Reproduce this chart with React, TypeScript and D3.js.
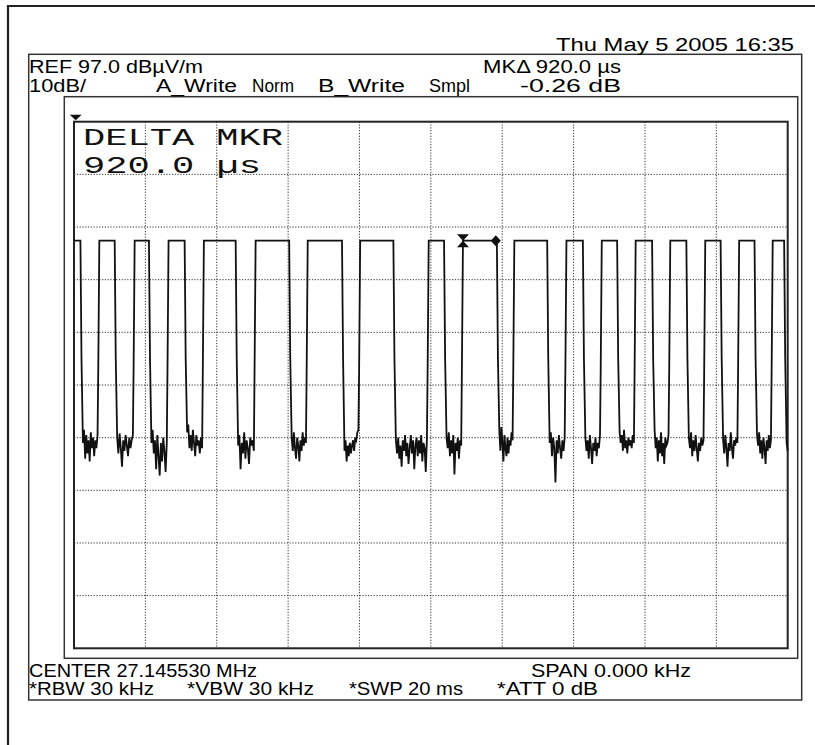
import * as d3 from "d3";

// analyzer settings shown on screen
const refLevelDb = 97;
const dbPerDiv = 10;
const sweepMs = 20;
const msPerDiv = 2;
const highLevelDb = 74.4;

// pulse edges (ms from sweep start)
const pulseStartMs = [0, 0.66, 1.65, 2.6, 3.59, 5.04, 6.5, 7.97, 9.89, 10.85, 12.29, 13.75, 14.74, 15.69, 16.66, 17.64, 18.59, 19.53];
const pulseEndMs = [0.18, 1.14, 2.1, 3.1, 4.53, 6.03, 7.51, 8.95, 10.37, 11.85, 13.26, 14.26, 15.22, 16.2, 17.16, 18.12, 19.07, 19.9];

// noise floor between pulses (dBuV/m), one list per gap
const noiseDb = [
  [36, 38.5, 33, 37.5, 34, 36.5, 32.5, 38, 35, 37, 33.5, 36.5, 35, 37.5],
  [37, 34, 37.8, 35, 31.5, 36.5, 34.5, 37.5, 35.5, 33.5, 37, 35, 36.5, 37.5],
  [36, 38.5, 34, 36.5, 31, 37.5, 33.5, 29.8, 36, 32.5, 37, 34.5, 30.5, 36],
  [38, 39.5, 35, 37.5, 34.5, 38.5, 36, 33.5, 37.5, 35.5, 36.5, 34, 37, 35],
  [35.5, 37.5, 31, 36, 34, 38, 33, 36.5, 35, 32, 37, 35.5, 36.5, 34.5],
  [37, 34.5, 38, 35, 33, 37, 35.5, 32.5, 36.5, 34.5, 38, 35.5, 37, 36],
  [34.5, 36.5, 32.5, 35.5, 33.5, 36, 34, 35.5, 36.5, 34.5, 37, 36.5, 38, 38.5],
  [36.5, 34, 37, 33, 35.5, 31.5, 36.5, 34.5, 37.5, 33.5, 36, 32, 35, 37.5, 34, 36.5, 31, 35.5, 37, 33.5, 36.5, 34, 37.5, 32.5, 36, 35, 30.5, 37],
  [37, 35, 38, 33.5, 36.5, 34, 37.5, 30, 36, 34.5, 37, 33, 36.5, 35.5],
  [38, 34.5, 39, 36, 32.5, 37.5, 35, 33.5, 37, 34, 36.5, 35.5, 38, 36.5],
  [36, 38, 33.5, 37, 35, 28.5, 36.5, 34, 37.5, 35, 33, 36.5, 34.5, 37],
  [37, 34.5, 36.5, 33, 37.5, 35, 32, 36, 34.5, 37, 33.5, 36, 35, 37.5],
  [38, 36, 37.5, 34.5, 38.5, 35, 36.5, 34, 37, 35.5, 36.5, 35, 37.5, 36],
  [38.5, 35, 37, 32.5, 36.5, 34, 38, 33.5, 36, 32, 37, 35.5, 36, 37.5],
  [37, 35, 38, 33.5, 36.5, 34.5, 37.5, 35, 32.5, 36, 34.5, 37, 35.5, 36.5],
  [36.5, 34, 37.5, 35, 31.5, 36, 34.5, 38, 35, 33, 36.5, 35.5, 37, 36],
  [37.5, 35.5, 38, 34, 36.5, 33, 37, 35, 32, 36.5, 34.5, 37.5, 35, 36.5],
  [36, 34.5],
];

const markerMs = [10.9, 11.82];

const topLabels = ["REF 97.0 dB\u00b5V/m", "MK\u0394 920.0 \u00b5s", "10dB/", "A_Write", "Norm", "B_Write", "Smpl", "-0.26 dB"];
const bottomLabels = ["CENTER 27.145530 MHz", "SPAN 0.000 kHz", "*RBW 30 kHz", "*VBW 30 kHz", "*SWP 20 ms", "*ATT 0 dB"];
const dateLabel = "Thu May  5 2005 16:35";
const deltaLabels = ["DELTA MKR", "920.0 \u00b5s"];

export default function App() {
  const left = 74;
  const right = 787.7;
  const top = 121.7;
  const bottom = 648.3;

  const x = d3.scaleLinear().domain([0, sweepMs]).range([left, right]);
  const y = d3
    .scaleLinear()
    .domain([refLevelDb - 10 * dbPerDiv, refLevelDb])
    .range([bottom, top]);

  const pts: [number, number][] = [];
  pulseStartMs.forEach((start, i) => {
    const end = pulseEndMs[i];
    if (i === 0) {
      pts.push([start, highLevelDb]);
    } else {
      pts.push([start + 0.02, 50]);
      pts.push([start + 0.05, highLevelDb]);
    }
    pts.push([end, highLevelDb]);
    pts.push([end + 0.03, 52]);
    const gap = noiseDb[i];
    const a = end + 0.07;
    const b = i + 1 < pulseStartMs.length ? pulseStartMs[i + 1] : sweepMs;
    gap.forEach((v, k) => pts.push([a + ((b - a) * k) / Math.max(gap.length - 1, 1), v]));
  });

  const line = d3
    .line<[number, number]>()
    .x((d) => x(d[0]))
    .y((d) => y(d[1]));

  const vTicks = d3.range(msPerDiv, sweepMs, msPerDiv);
  const hTicks = d3.range(refLevelDb - 9 * dbPerDiv, refLevelDb, dbPerDiv);

  const txt = {
    fontFamily: "'Liberation Sans Narrow', 'Liberation Sans', Arial, sans-serif",
    fontSize: 18,
    fill: "#000",
  } as const;
  const fit = (s: string, xx: number, yy: number, w: number) => (
    <text key={s} x={xx} y={yy} textLength={w} lengthAdjust="spacingAndGlyphs" {...txt}>
      {s}
    </text>
  );

  const hy = y(highLevelDb);

  return (
    <svg
      width={815}
      height={745}
      style={{ position: "absolute", left: 0, top: 0, background: "#fff" }}
    >
      <rect x={0} y={0} width={815} height={745} fill="#fff" />
      {/* outer frame */}
      <path d="M8,745 L8,6 L815,6" fill="none" stroke="#222" strokeWidth={2.2} />
      {/* screen boxes */}
      <rect x={28.7} y={54.3} width={773} height={645.7} fill="none" stroke="#333" strokeWidth={1.5} />
      <rect x={64.3} y={96.7} width={733.4} height={561.6} fill="none" stroke="#333" strokeWidth={1.5} />

      {fit(dateLabel, 556, 51, 238)}
      {fit(topLabels[0], 29, 72.7, 174)}
      {fit(topLabels[1], 483, 72.7, 138)}
      {fit(topLabels[2], 29, 91.7, 57)}
      {fit(topLabels[3], 156, 91.7, 81)}
      {fit(topLabels[4], 252, 91.7, 42)}
      {fit(topLabels[5], 318, 91.7, 87)}
      {fit(topLabels[6], 429, 91.7, 41)}
      {fit(topLabels[7], 520, 91.7, 101)}

      {fit(bottomLabels[0], 29, 676.7, 228)}
      {fit(bottomLabels[1], 531, 676.7, 160)}
      {fit(bottomLabels[2], 29, 695, 125)}
      {fit(bottomLabels[3], 187, 695, 127)}
      {fit(bottomLabels[4], 349, 695, 114)}
      {fit(bottomLabels[5], 497, 695, 101)}

      {/* graticule */}
      <g stroke="#333" strokeWidth={1} strokeDasharray="1.2 1.6" fill="none">
        {vTicks.map((t) => (
          <line key={"v" + t} x1={x(t)} x2={x(t)} y1={top} y2={bottom} />
        ))}
        {hTicks.map((d) => (
          <line key={"h" + d} x1={left} x2={right} y1={y(d)} y2={y(d)} />
        ))}
      </g>
      <rect x={left} y={top} width={right - left} height={bottom - top} fill="none" stroke="#222" strokeWidth={2} />

      {/* reference level marker */}
      <path d={`M${left + 1.7 - 6},${top - 7} L${left + 1.7 + 6},${top - 7} L${left + 1.7},${top - 1.5} Z`} fill="#111" />

      {/* delta marker readout */}
      <g fontFamily="'Liberation Mono', 'DejaVu Sans Mono', monospace" fontSize={24} fill="#111">
        <text x={83} y={145} textLength={200} lengthAdjust="spacingAndGlyphs">
          {deltaLabels[0]}
        </text>
        <text x={83} y={172.5} textLength={178} lengthAdjust="spacingAndGlyphs">
          {deltaLabels[1]}
        </text>
      </g>

      {/* trace */}
      <path d={line(pts) ?? ""} fill="none" stroke="#111" strokeWidth={1.8} strokeLinejoin="miter" />

      {/* markers */}
      <path
        d={`M${x(markerMs[0]) - 6},${hy - 6.5} L${x(markerMs[0]) + 6},${hy - 6.5} L${x(markerMs[0])},${hy} Z M${x(markerMs[0]) - 6},${hy + 6.5} L${x(markerMs[0]) + 6},${hy + 6.5} L${x(markerMs[0])},${hy} Z`}
        fill="#111"
      />
      <path
        d={`M${x(markerMs[1])},${hy - 5.5} L${x(markerMs[1]) + 5},${hy} L${x(markerMs[1])},${hy + 5.5} L${x(markerMs[1]) - 5},${hy} Z`}
        fill="#111"
      />
    </svg>
  );
}
